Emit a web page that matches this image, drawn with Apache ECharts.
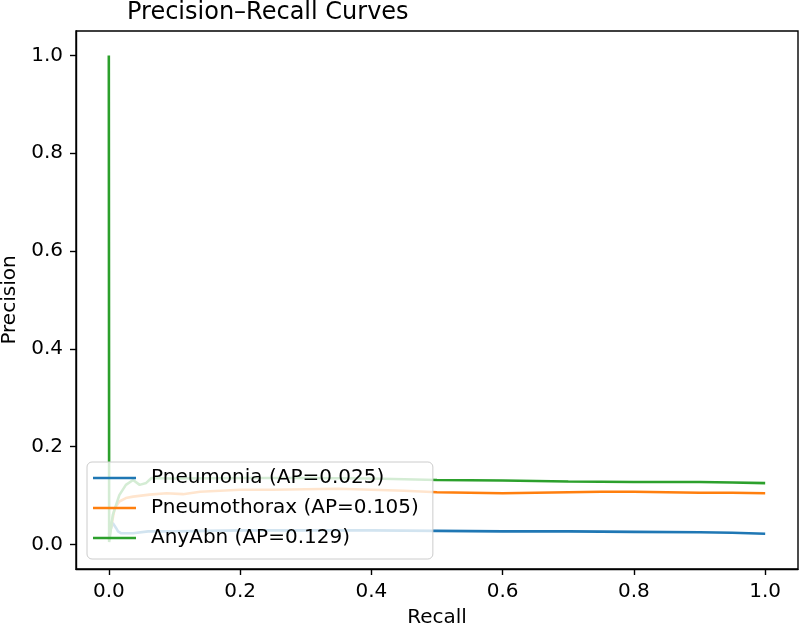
<!DOCTYPE html>
<html>
<head>
<meta charset="utf-8">
<script src="https://cdn.jsdelivr.net/npm/echarts@6/dist/echarts.min.js"></script>
<style>
  html, body { margin: 0; padding: 0; background: #fff; }
  #chart { width: 800px; height: 629px; }
</style>
</head>
<body>
<div id="chart"></div>
<script>
// 刻度
var tickValues = [0, 0.2, 0.4, 0.6, 0.8, 1.0];

// Pneumonia
var pneuRecall = [0, 0.006, 0.011, 0.014, 0.019, 0.037, 0.06, 0.1, 0.15, 0.2, 0.3, 0.4, 0.5, 0.6, 0.7, 0.8, 0.9, 0.95, 1.0];
var pneuPrec   = [0.02, 0.044, 0.034, 0.027, 0.023, 0.023, 0.027, 0.027, 0.028, 0.029, 0.029, 0.029, 0.028, 0.027, 0.027, 0.026, 0.025, 0.024, 0.022];

// Pneumothorax
var ptxRecall = [0, 0.004, 0.009, 0.016, 0.026, 0.037, 0.062, 0.088, 0.113, 0.139, 0.2, 0.25, 0.3, 0.35, 0.4, 0.45, 0.5, 0.55, 0.6, 0.65, 0.7, 0.75, 0.8, 0.85, 0.9, 0.95, 1.0];
var ptxPrec   = [0.01, 0.04, 0.074, 0.088, 0.095, 0.098, 0.102, 0.105, 0.103, 0.108, 0.112, 0.112, 0.113, 0.114, 0.112, 0.11, 0.107, 0.106, 0.105, 0.106, 0.107, 0.108, 0.108, 0.107, 0.106, 0.106, 0.105];

// AnyAbn
var anyRecall = [0, 0.0005, 0.006, 0.016, 0.026, 0.037, 0.047, 0.057, 0.065, 0.1, 0.2, 0.3, 0.4, 0.5, 0.6, 0.7, 0.8, 0.9, 0.95, 1.0];
var anyPrec   = [1.0, 0.005, 0.06, 0.101, 0.122, 0.132, 0.122, 0.126, 0.136, 0.135, 0.136, 0.136, 0.135, 0.132, 0.131, 0.129, 0.128, 0.128, 0.127, 0.1256];

var seriesNames = ['Pneumonia (AP=0.025)', 'Pneumothorax (AP=0.105)', 'AnyAbn (AP=0.129)'];
var colors = ['#1f77b4', '#ff7f0e', '#2ca02c'];

function zip(xs, ys) {
    var out = [];
    for (var i = 0; i < xs.length; i++) {
        out.push([xs[i], ys[i]]);
    }
    return out;
}

var font = 'DejaVu Sans';
var chart = echarts.init(document.getElementById('chart'));

function makeAxis(name, pos) {
    return {
        type: 'value',
        min: -0.05,
        max: 1.05,
        name: name,
        nameLocation: 'middle',
        nameGap: pos === 'x' ? 39 : 54,
        nameTextStyle: {fontFamily: font, fontSize: 20, color: '#000'},
        axisLine: {show: true, onZero: false, lineStyle: {color: '#000', width: 1.4}},
        axisTick: {show: true, length: 6, lineStyle: {color: '#000', width: 1.4}, customValues: tickValues},
        axisLabel: {
            fontFamily: font, fontSize: 20, color: '#000', margin: 13,
            customValues: tickValues,
            formatter: function (v) { return v.toFixed(1); }
        },
        splitLine: {show: false}
    };
}

var series = [];
var allData = [zip(pneuRecall, pneuPrec), zip(ptxRecall, ptxPrec), zip(anyRecall, anyPrec)];
for (var i = 0; i < seriesNames.length; i++) {
    series.push({
        name: seriesNames[i],
        type: 'line',
        showSymbol: false,
        symbol: 'none',
        color: colors[i],
        lineStyle: {width: 2.6, color: colors[i]},
        data: allData[i]
    });
}

var option = {
    animation: false,
    backgroundColor: '#fff',
    title: {
        text: 'Precision\u2013Recall Curves',
        left: 127,
        top: 1,
        padding: 0,
        textStyle: {fontFamily: font, fontSize: 24, fontWeight: 'normal', color: '#000'}
    },
    grid: {
        left: 76, right: 2, top: 31, bottom: 60,
        outerBoundsMode: 'none',
        containLabel: false,
        show: true, borderColor: '#000', borderWidth: 1.4, backgroundColor: 'transparent'
    },
    legend: {
        orient: 'vertical',
        left: 87,
        top: 462,
        data: seriesNames,
        icon: 'rect',
        itemWidth: 43,
        itemHeight: 2.6,
        itemGap: 10,
        padding: [6, 14, 11, 6],
        backgroundColor: 'rgba(255,255,255,0.8)',
        borderColor: '#cccccc',
        borderWidth: 1,
        borderRadius: 5,
        textStyle: {fontFamily: font, fontSize: 20, color: '#000', lineHeight: 20, padding: [0, 0, 0, 10]}
    },
    xAxis: makeAxis('Recall', 'x'),
    yAxis: makeAxis('Precision', 'y'),
    series: series
};
chart.setOption(option);
</script>
</body>
</html>
